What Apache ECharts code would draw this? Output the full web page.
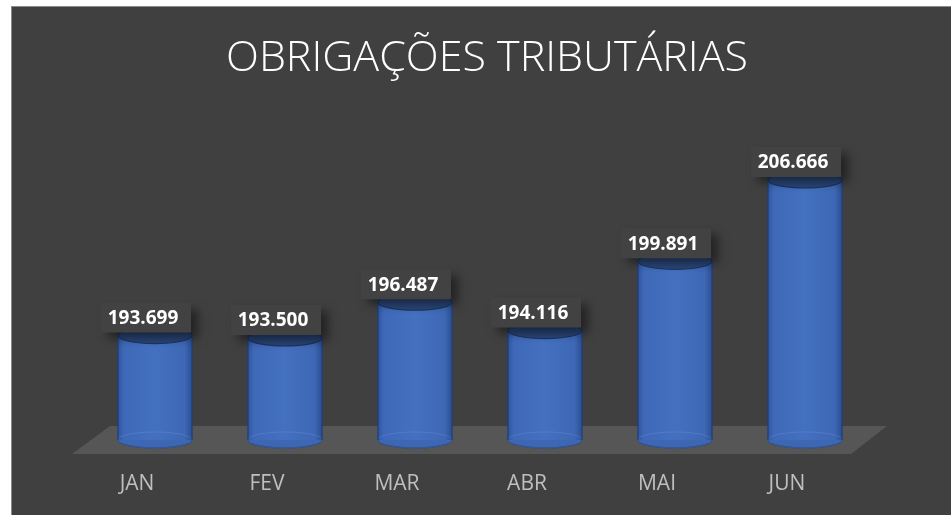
<!DOCTYPE html>
<html>
<head>
<meta charset="utf-8">
<script src="https://cdn.jsdelivr.net/npm/echarts@6/dist/echarts.min.js"></script>
<style>
  html, body { margin: 0; padding: 0; background: #fff; }
  .panel { position: absolute; left: 11px; top: 6px; width: 940px; height: 509px; background: #404040; border-top: 1px solid #8a8a8a; border-left: 1px solid #8a8a8a; box-sizing: border-box; }
  #chart { position: absolute; left: 0; top: 0; width: 951px; height: 515px; }
</style>
</head>
<body>
<div class="panel"></div>
<div id="chart"></div>
<script>
// dados (valores em reais, mil separado por ponto)
const months = ['JAN', 'FEV', 'MAR', 'ABR', 'MAI', 'JUN']
const values = [193699, 193500, 196487, 194116, 199891, 206666]
const yMin = 185000
const yMax = 210000

function fmt(v) {
  return String(v).replace(/\B(?=(\d{3})+(?!\d))/g, '.')
}

function renderCylinder(params, api) {
  const cs = params.coordSys
  const i = api.value(0)
  const top = api.coord([i, api.value(1)])
  const base = api.coord([i, yMin])
  const band = api.size([1, 0])[0]
  const rx = band * 0.285
  const ry = 8
  const cx = top[0] + 18
  const children = []

  // piso em perspectiva (so uma vez)
  if (params.dataIndex === 0) {
    const fy = cs.y + cs.height
    children.push({
      type: 'polygon',
      silent: true,
      shape: {
        points: [
          [cs.x, fy + 14],
          [cs.x + cs.width - 1, fy + 14],
          [cs.x + cs.width + 35, fy - 14],
          [cs.x + 38, fy - 14],
        ],
      },
      style: { fill: '#565656' },
    })
  }

  children.push({
    type: 'ellipse',
    shape: { cx, cy: base[1], rx, ry },
    style: { fill: '#3d66b3', stroke: '#1f3b73', lineWidth: 1.2 },
  })
  children.push({
    type: 'rect',
    shape: { x: cx - rx, y: top[1], width: rx * 2, height: base[1] - top[1] },
    style: {
      fill: {
        type: 'linear', x: 0, y: 0, x2: 1, y2: 0,
        colorStops: [
          { offset: 0, color: '#2f559f' },
          { offset: 0.08, color: '#3f69b8' },
          { offset: 0.5, color: '#4470c0' },
          { offset: 0.9, color: '#3e68b5' },
          { offset: 1, color: '#2b4e92' },
        ],
      },
    },
  })
  children.push({
    type: 'ellipse',
    shape: { cx, cy: base[1], rx, ry },
    style: { fill: 'none', stroke: 'rgba(110,150,220,0.35)', lineWidth: 1 },
  })
  children.push({
    type: 'line',
    shape: { x1: cx - rx, y1: top[1], x2: cx - rx, y2: base[1] },
    style: { stroke: '#203e78', lineWidth: 1.2 },
  })
  children.push({
    type: 'line',
    shape: { x1: cx + rx, y1: top[1], x2: cx + rx, y2: base[1] },
    style: { stroke: '#203e78', lineWidth: 1.2 },
  })
  children.push({
    type: 'ellipse',
    shape: { cx, cy: top[1], rx, ry },
    style: { fill: '#2a4679', stroke: '#1c3560', lineWidth: 1.2 },
  })

  // rotulo com sombra suave
  const tx = cx - 12
  children.push({
    type: 'rect',
    shape: { x: tx - 42, y: top[1] - 33, width: 90, height: 30 },
    style: {
      fill: '#424242',
      shadowBlur: 9,
      shadowColor: 'rgba(0,0,0,0.45)',
      shadowOffsetX: 7,
      shadowOffsetY: 6,
    },
  })
  children.push({
    type: 'text',
    style: {
      text: fmt(api.value(1)),
      x: tx,
      y: top[1] - 17,
      align: 'center',
      verticalAlign: 'middle',
      fill: '#ffffff',
      font: 'bold 19px "Open Sans", sans-serif',
    },
  })

  return { type: 'group', children }
}

const chart = echarts.init(document.getElementById('chart'), null, { renderer: 'canvas' })

chart.setOption({
  backgroundColor: 'transparent',
  animation: false,
  title: {
    text: 'OBRIGAÇÕES TRIBUTÁRIAS',
    left: 482,
    textAlign: 'center',
    top: 32,
    textStyle: {
      color: '#ffffff',
      fontSize: 43,
      fontWeight: 300,
      fontFamily: 'Open Sans',
    },
  },
  grid: {
    left: 72,
    right: 99,
    top: 140,
    bottom: 75,
  },
  xAxis: {
    type: 'category',
    data: months,
    axisLine: { show: false },
    axisTick: { show: false },
    splitLine: { show: false },
    axisLabel: {
      color: '#bfbfbf',
      fontSize: 21,
      fontFamily: 'Open Sans',
      margin: 34,
    },
  },
  yAxis: {
    type: 'value',
    min: yMin,
    max: yMax,
    show: false,
  },
  series: [
    {
      type: 'custom',
      renderItem: renderCylinder,
      encode: { x: 0, y: 1 },
      data: values.map((v, i) => [i, v]),
    },
  ],
})
</script>
</body>
</html>
